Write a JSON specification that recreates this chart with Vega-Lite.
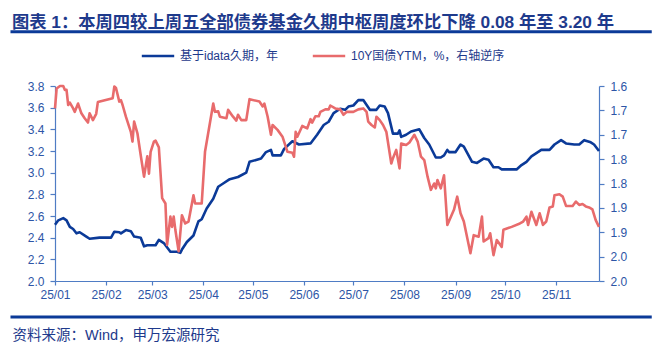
{
  "$schema": "https://vega.github.io/schema/vega-lite/v6.json",
  "width": 544,
  "height": 195,
  "autosize": {"type": "none"},
  "padding": {"left": 55, "top": 86, "right": 61, "bottom": 64},
  "background": "white",
  "config": {
    "view": {"stroke": null},
    "axis": {
      "domainColor": "#4F7CC4",
      "tickColor": "#4F7CC4",
      "labelColor": "#2D55A6",
      "labelFont": "Liberation Sans",
      "labelFontSize": 12,
      "tickSize": 5,
      "grid": false,
      "domainWidth": 1.2,
      "tickWidth": 1.2
    }
  },
  "title": {
    "text": "图表 1：本周四较上周五全部债券基金久期中枢周度环比下降 0.08 年至 3.20 年",
    "anchor": "start",
    "frame": "group",
    "orient": "top",
    "offset": 0,
    "dx": -43,
    "dy": 15,
    "baseline": "alphabetic",
    "font": "Liberation Sans, Noto Sans CJK SC",
    "fontSize": 17.3,
    "fontWeight": "bold",
    "color": "#1E3A8C"
  },
  "datasets": {
    "dur": [
      {"d": "2025-01-01", "v": 2.52}, {"d": "2025-01-03", "v": 2.56}, {"d": "2025-01-06", "v": 2.58},
      {"d": "2025-01-08", "v": 2.56}, {"d": "2025-01-10", "v": 2.5}, {"d": "2025-01-12", "v": 2.48},
      {"d": "2025-01-14", "v": 2.44}, {"d": "2025-01-16", "v": 2.45}, {"d": "2025-01-20", "v": 2.41},
      {"d": "2025-01-22", "v": 2.39}, {"d": "2025-01-28", "v": 2.4}, {"d": "2025-02-04", "v": 2.4},
      {"d": "2025-02-06", "v": 2.455}, {"d": "2025-02-09", "v": 2.45}, {"d": "2025-02-10", "v": 2.44},
      {"d": "2025-02-13", "v": 2.47}, {"d": "2025-02-16", "v": 2.46}, {"d": "2025-02-18", "v": 2.41},
      {"d": "2025-02-22", "v": 2.4}, {"d": "2025-02-24", "v": 2.32}, {"d": "2025-02-26", "v": 2.33},
      {"d": "2025-03-03", "v": 2.33}, {"d": "2025-03-05", "v": 2.38}, {"d": "2025-03-08", "v": 2.35},
      {"d": "2025-03-12", "v": 2.27}, {"d": "2025-03-16", "v": 2.27}, {"d": "2025-03-18", "v": 2.26},
      {"d": "2025-03-19", "v": 2.29}, {"d": "2025-03-22", "v": 2.36}, {"d": "2025-03-26", "v": 2.42},
      {"d": "2025-03-29", "v": 2.55}, {"d": "2025-03-31", "v": 2.57}, {"d": "2025-04-03", "v": 2.67},
      {"d": "2025-04-07", "v": 2.76}, {"d": "2025-04-10", "v": 2.87}, {"d": "2025-04-13", "v": 2.9},
      {"d": "2025-04-17", "v": 2.94}, {"d": "2025-04-22", "v": 2.96}, {"d": "2025-04-27", "v": 3.0},
      {"d": "2025-04-29", "v": 3.1}, {"d": "2025-05-06", "v": 3.13}, {"d": "2025-05-09", "v": 3.19},
      {"d": "2025-05-12", "v": 3.21}, {"d": "2025-05-13", "v": 3.16}, {"d": "2025-05-18", "v": 3.16},
      {"d": "2025-05-20", "v": 3.22}, {"d": "2025-05-25", "v": 3.29}, {"d": "2025-05-29", "v": 3.26},
      {"d": "2025-06-05", "v": 3.27}, {"d": "2025-06-09", "v": 3.35}, {"d": "2025-06-13", "v": 3.44},
      {"d": "2025-06-16", "v": 3.47}, {"d": "2025-06-19", "v": 3.55}, {"d": "2025-06-23", "v": 3.59},
      {"d": "2025-06-26", "v": 3.58}, {"d": "2025-06-28", "v": 3.61}, {"d": "2025-07-01", "v": 3.62},
      {"d": "2025-07-04", "v": 3.67}, {"d": "2025-07-07", "v": 3.67}, {"d": "2025-07-11", "v": 3.58},
      {"d": "2025-07-15", "v": 3.58}, {"d": "2025-07-17", "v": 3.62}, {"d": "2025-07-20", "v": 3.61},
      {"d": "2025-07-22", "v": 3.55}, {"d": "2025-07-25", "v": 3.36}, {"d": "2025-07-28", "v": 3.36},
      {"d": "2025-07-29", "v": 3.39}, {"d": "2025-07-30", "v": 3.33}, {"d": "2025-08-02", "v": 3.35},
      {"d": "2025-08-05", "v": 3.38}, {"d": "2025-08-10", "v": 3.4}, {"d": "2025-08-13", "v": 3.32},
      {"d": "2025-08-16", "v": 3.26}, {"d": "2025-08-20", "v": 3.14}, {"d": "2025-08-23", "v": 3.14},
      {"d": "2025-08-25", "v": 3.16}, {"d": "2025-08-27", "v": 3.21}, {"d": "2025-08-28", "v": 3.19},
      {"d": "2025-09-01", "v": 3.19}, {"d": "2025-09-04", "v": 3.26}, {"d": "2025-09-06", "v": 3.24},
      {"d": "2025-09-11", "v": 3.1}, {"d": "2025-09-14", "v": 3.09}, {"d": "2025-09-18", "v": 3.13},
      {"d": "2025-09-21", "v": 3.12}, {"d": "2025-09-24", "v": 3.05}, {"d": "2025-09-27", "v": 3.05},
      {"d": "2025-09-29", "v": 3.03}, {"d": "2025-10-08", "v": 3.03}, {"d": "2025-10-11", "v": 3.07},
      {"d": "2025-10-14", "v": 3.1}, {"d": "2025-10-17", "v": 3.15}, {"d": "2025-10-20", "v": 3.18},
      {"d": "2025-10-23", "v": 3.21}, {"d": "2025-10-28", "v": 3.21}, {"d": "2025-10-31", "v": 3.26},
      {"d": "2025-11-04", "v": 3.3}, {"d": "2025-11-07", "v": 3.27}, {"d": "2025-11-12", "v": 3.26},
      {"d": "2025-11-15", "v": 3.26}, {"d": "2025-11-18", "v": 3.3}, {"d": "2025-11-22", "v": 3.28},
      {"d": "2025-11-24", "v": 3.26}, {"d": "2025-11-27", "v": 3.2}
    ],
    "ytm": [
      {"d": "2025-01-01", "v": 1.646}, {"d": "2025-01-02", "v": 1.605}, {"d": "2025-01-04", "v": 1.6},
      {"d": "2025-01-06", "v": 1.6}, {"d": "2025-01-07", "v": 1.608}, {"d": "2025-01-08", "v": 1.608},
      {"d": "2025-01-09", "v": 1.639}, {"d": "2025-01-10", "v": 1.634}, {"d": "2025-01-12", "v": 1.646},
      {"d": "2025-01-13", "v": 1.653}, {"d": "2025-01-15", "v": 1.636}, {"d": "2025-01-17", "v": 1.656},
      {"d": "2025-01-19", "v": 1.666}, {"d": "2025-01-21", "v": 1.675}, {"d": "2025-01-22", "v": 1.656},
      {"d": "2025-01-24", "v": 1.67}, {"d": "2025-01-26", "v": 1.657}, {"d": "2025-01-27", "v": 1.633},
      {"d": "2025-02-05", "v": 1.625}, {"d": "2025-02-06", "v": 1.601}, {"d": "2025-02-07", "v": 1.604},
      {"d": "2025-02-09", "v": 1.632}, {"d": "2025-02-10", "v": 1.629}, {"d": "2025-02-11", "v": 1.639},
      {"d": "2025-02-13", "v": 1.663}, {"d": "2025-02-16", "v": 1.694}, {"d": "2025-02-17", "v": 1.714},
      {"d": "2025-02-18", "v": 1.673}, {"d": "2025-02-20", "v": 1.697}, {"d": "2025-02-22", "v": 1.742},
      {"d": "2025-02-24", "v": 1.786}, {"d": "2025-02-26", "v": 1.744}, {"d": "2025-02-27", "v": 1.78},
      {"d": "2025-02-28", "v": 1.735}, {"d": "2025-03-02", "v": 1.714}, {"d": "2025-03-03", "v": 1.712},
      {"d": "2025-03-05", "v": 1.726}, {"d": "2025-03-07", "v": 1.83}, {"d": "2025-03-09", "v": 1.841},
      {"d": "2025-03-10", "v": 1.926}, {"d": "2025-03-12", "v": 1.868}, {"d": "2025-03-13", "v": 1.889},
      {"d": "2025-03-14", "v": 1.868}, {"d": "2025-03-15", "v": 1.895}, {"d": "2025-03-17", "v": 1.939},
      {"d": "2025-03-19", "v": 1.865}, {"d": "2025-03-21", "v": 1.882}, {"d": "2025-03-23", "v": 1.878},
      {"d": "2025-03-26", "v": 1.824}, {"d": "2025-03-27", "v": 1.841}, {"d": "2025-03-31", "v": 1.841},
      {"d": "2025-04-02", "v": 1.735}, {"d": "2025-04-07", "v": 1.636}, {"d": "2025-04-08", "v": 1.653},
      {"d": "2025-04-10", "v": 1.652}, {"d": "2025-04-11", "v": 1.663}, {"d": "2025-04-15", "v": 1.666},
      {"d": "2025-04-16", "v": 1.649}, {"d": "2025-04-19", "v": 1.663}, {"d": "2025-04-21", "v": 1.671},
      {"d": "2025-04-22", "v": 1.659}, {"d": "2025-04-24", "v": 1.67}, {"d": "2025-04-27", "v": 1.67},
      {"d": "2025-04-29", "v": 1.627}, {"d": "2025-05-05", "v": 1.632}, {"d": "2025-05-07", "v": 1.642},
      {"d": "2025-05-08", "v": 1.636}, {"d": "2025-05-10", "v": 1.663}, {"d": "2025-05-12", "v": 1.7},
      {"d": "2025-05-13", "v": 1.68}, {"d": "2025-05-16", "v": 1.69}, {"d": "2025-05-19", "v": 1.704},
      {"d": "2025-05-22", "v": 1.735}, {"d": "2025-05-25", "v": 1.737}, {"d": "2025-05-26", "v": 1.745},
      {"d": "2025-05-27", "v": 1.694}, {"d": "2025-05-28", "v": 1.704}, {"d": "2025-05-31", "v": 1.682},
      {"d": "2025-06-03", "v": 1.687}, {"d": "2025-06-05", "v": 1.668}, {"d": "2025-06-06", "v": 1.675},
      {"d": "2025-06-08", "v": 1.662}, {"d": "2025-06-10", "v": 1.662}, {"d": "2025-06-11", "v": 1.653},
      {"d": "2025-06-14", "v": 1.648}, {"d": "2025-06-16", "v": 1.648}, {"d": "2025-06-17", "v": 1.64},
      {"d": "2025-06-20", "v": 1.646}, {"d": "2025-06-23", "v": 1.648}, {"d": "2025-06-25", "v": 1.659},
      {"d": "2025-06-27", "v": 1.653}, {"d": "2025-07-01", "v": 1.653}, {"d": "2025-07-04", "v": 1.648},
      {"d": "2025-07-07", "v": 1.646}, {"d": "2025-07-09", "v": 1.653}, {"d": "2025-07-10", "v": 1.673},
      {"d": "2025-07-12", "v": 1.68}, {"d": "2025-07-14", "v": 1.685}, {"d": "2025-07-15", "v": 1.663},
      {"d": "2025-07-17", "v": 1.67}, {"d": "2025-07-19", "v": 1.68}, {"d": "2025-07-21", "v": 1.694},
      {"d": "2025-07-24", "v": 1.759}, {"d": "2025-07-25", "v": 1.748}, {"d": "2025-07-27", "v": 1.731},
      {"d": "2025-07-29", "v": 1.769}, {"d": "2025-07-30", "v": 1.718}, {"d": "2025-08-02", "v": 1.721},
      {"d": "2025-08-04", "v": 1.716}, {"d": "2025-08-07", "v": 1.7}, {"d": "2025-08-09", "v": 1.714},
      {"d": "2025-08-11", "v": 1.745}, {"d": "2025-08-13", "v": 1.752}, {"d": "2025-08-15", "v": 1.786},
      {"d": "2025-08-17", "v": 1.813}, {"d": "2025-08-19", "v": 1.8}, {"d": "2025-08-20", "v": 1.81},
      {"d": "2025-08-21", "v": 1.793}, {"d": "2025-08-23", "v": 1.81}, {"d": "2025-08-25", "v": 1.783},
      {"d": "2025-08-27", "v": 1.885}, {"d": "2025-08-31", "v": 1.854}, {"d": "2025-09-02", "v": 1.827},
      {"d": "2025-09-04", "v": 1.861}, {"d": "2025-09-06", "v": 1.878}, {"d": "2025-09-10", "v": 1.943},
      {"d": "2025-09-12", "v": 1.906}, {"d": "2025-09-15", "v": 1.909}, {"d": "2025-09-17", "v": 1.868},
      {"d": "2025-09-18", "v": 1.919}, {"d": "2025-09-21", "v": 1.912}, {"d": "2025-09-22", "v": 1.902},
      {"d": "2025-09-24", "v": 1.947}, {"d": "2025-09-26", "v": 1.916}, {"d": "2025-09-29", "v": 1.93},
      {"d": "2025-09-30", "v": 1.895}, {"d": "2025-10-05", "v": 1.889}, {"d": "2025-10-10", "v": 1.882},
      {"d": "2025-10-12", "v": 1.878}, {"d": "2025-10-14", "v": 1.868}, {"d": "2025-10-15", "v": 1.885},
      {"d": "2025-10-17", "v": 1.858}, {"d": "2025-10-20", "v": 1.885}, {"d": "2025-10-22", "v": 1.861},
      {"d": "2025-10-24", "v": 1.885}, {"d": "2025-10-26", "v": 1.878}, {"d": "2025-10-28", "v": 1.849},
      {"d": "2025-10-30", "v": 1.847}, {"d": "2025-10-31", "v": 1.824}, {"d": "2025-11-03", "v": 1.822},
      {"d": "2025-11-05", "v": 1.827}, {"d": "2025-11-07", "v": 1.846}, {"d": "2025-11-11", "v": 1.846},
      {"d": "2025-11-13", "v": 1.837}, {"d": "2025-11-15", "v": 1.844}, {"d": "2025-11-17", "v": 1.842},
      {"d": "2025-11-19", "v": 1.847}, {"d": "2025-11-21", "v": 1.849}, {"d": "2025-11-23", "v": 1.853},
      {"d": "2025-11-25", "v": 1.875}, {"d": "2025-11-27", "v": 1.889}
    ],
    "frame": [
      {"x1": "2024-12-05", "x2": "2025-12-29", "y": 4.30},
      {"x1": "2024-12-05", "x2": "2025-12-29", "y": 1.668}
    ]
  },
  "layer": [
    {
      "layer": [
        {
          "data": {"name": "dur"},
          "mark": {"type": "line", "strokeWidth": 2.6, "strokeJoin": "round"},
          "encoding": {
            "x": {
              "field": "d",
              "type": "temporal",
              "scale": {
                "type": "utc",
                "domain": [1735689600000, 1764201600000]
              },
              "axis": {
                "orient": "bottom",
                "values": [1735689600000, 1738368000000, 1740787200000, 1743465600000, 1746057600000, 1748736000000, 1751328000000, 1754006400000, 1756684800000, 1759276800000, 1761955200000],
                "labelExpr": "utcFormat(datum.value, '%y/%m')",
                "labelFlush": false,
                "labelPadding": 4,
                "tickSize": 4,
                "title": "资料来源：Wind，申万宏源研究",
                "titleX": -43,
                "titleY": 54,
                "titleAlign": "left",
                "titleAnchor": "start",
                "titleBaseline": "middle",
                "titleFont": "Liberation Sans, Noto Sans CJK SC",
                "titleFontSize": 14.5,
                "titleFontWeight": "normal",
                "titleColor": "#1E3A8C"
              }
            },
            "y": {
              "field": "v",
              "type": "quantitative",
              "scale": {"domain": [2.0, 3.8], "zero": false, "nice": false},
              "axis": {
                "orient": "left",
                "values": [2.0, 2.2, 2.4, 2.6, 2.8, 3.0, 3.2, 3.4, 3.6, 3.8],
                "format": ".1f",
                "labelPadding": 6,
                "title": null
              }
            },
            "color": {
              "datum": "基于idata久期，年",
              "scale": {
                "domain": ["基于idata久期，年", "10Y国债YTM，%，右轴逆序"],
                "range": ["#0B3A98", "#E86B6C"]
              },
              "legend": {
                "orient": "none",
                "legendX": 85,
                "legendY": -48,
                "direction": "horizontal",
                "title": null,
                "symbolType": "stroke",
                "symbolSize": 1050,
                "symbolStrokeWidth": 2.6,
                "labelFont": "Liberation Sans, Noto Sans CJK SC",
                "labelFontSize": 12,
                "labelColor": "#1E3A8C",
                "labelOffset": 4,
                "columnPadding": 28,
                "padding": 0
              }
            }
          }
        },
        {
          "data": {"name": "frame"},
          "mark": {"type": "rule", "color": "#0B3A98", "strokeWidth": 3, "clip": false},
          "encoding": {
            "x": {"field": "x1", "type": "temporal", "axis": null},
            "x2": {"field": "x2"},
            "y": {"field": "y", "type": "quantitative", "axis": null}
          }
        }
      ],
      "resolve": {"axis": {"x": "independent", "y": "independent"}}
    },
    {
      "data": {"name": "ytm"},
      "mark": {"type": "line", "strokeWidth": 2.6, "strokeJoin": "round"},
      "encoding": {
        "x": {"field": "d", "type": "temporal", "axis": null},
        "y": {
          "field": "v",
          "type": "quantitative",
          "scale": {"domain": [1.6, 2.0], "zero": false, "nice": false, "reverse": true},
          "axis": {
            "orient": "right",
            "values": [1.6, 1.65, 1.7, 1.75, 1.8, 1.85, 1.9, 1.95, 2.0],
            "labelExpr": "format(datum.value + 0.001, '.1f')",
            "labelPadding": 6,
            "title": null
          }
        },
        "color": {"datum": "10Y国债YTM，%，右轴逆序"}
      }
    }
  ],
  "resolve": {"scale": {"y": "independent"}, "axis": {"x": "independent"}}
}
